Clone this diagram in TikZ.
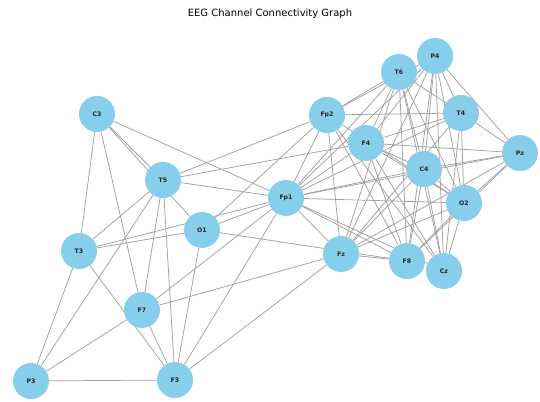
\documentclass[tikz,border=0pt]{standalone}
\usepackage{fontspec}
\setmainfont{DejaVu Sans}
\usetikzlibrary{backgrounds}
\definecolor{nodeblue}{HTML}{87CEEB}
\definecolor{edgegray}{HTML}{A0A0A0}
\tikzset{
  chan/.style={circle, fill=nodeblue, draw=none, minimum size=36pt, inner sep=0pt,
    font=\fontsize{6.2}{7}\selectfont\bfseries, text=black!85},
  edge/.style={draw=edgegray, line width=0.75pt},
  title/.style={font=\fontsize{10}{12}\selectfont, text=black}
}
\begin{document}
\begin{tikzpicture}[x=1pt,y=-1pt]
\useasboundingbox (0,0) rectangle (540,401);
\node[title] (ttl) at (270,14) {EEG Channel Connectivity Graph};
\node[chan] (Fp1) at (286,198) {Fp1};
\node[chan] (Fp2) at (327,115) {Fp2};
\node[chan] (F3) at (175,380) {F3};
\node[chan] (F4) at (366,143) {F4};
\node[chan] (C3) at (97,114) {C3};
\node[chan] (C4) at (424,169) {C4};
\node[chan] (P3) at (31,381) {P3};
\node[chan] (P4) at (435,56) {P4};
\node[chan] (O1) at (202,230) {O1};
\node[chan] (O2) at (464,203) {O2};
\node[chan] (F7) at (142,310) {F7};
\node[chan] (F8) at (407,261) {F8};
\node[chan] (T3) at (79,251) {T3};
\node[chan] (T4) at (461,113) {T4};
\node[chan] (T5) at (163,180) {T5};
\node[chan] (T6) at (399,72) {T6};
\node[chan] (Fz) at (341,254) {Fz};
\node[chan] (Cz) at (444,271) {Cz};
\node[chan] (Pz) at (520,153) {Pz};
\begin{pgfonlayer}{background}
\foreach \a/\b in {
  C3/T3, C3/F7, C3/T5, C3/O1, C3/Fp1,
  T5/Fp2, T5/F4, T5/Fp1, T5/T3, T5/P3, T5/F7, T5/F3,
  O1/Fp2, O1/Fp1, O1/F8, O1/F3, O1/T3,
  T3/Fp1, T3/P3, T3/F3,
  F7/Fp1, F7/Fz, F7/F3, F7/P3,
  P3/F3, F3/Fp1, F3/Fz,
  Fp2/T6, Fp2/P4, Fp2/T4, Fp2/O2, Fp2/Fz, Fp2/Cz, Fp2/F8, Fp2/Fp1,
  T6/T4, T6/F4, T6/C4, T6/O2, T6/Fz, T6/F8, T6/Cz, T6/Fp1,
  P4/T4, P4/Pz, P4/F4, P4/C4, P4/O2, P4/Cz, P4/F8, P4/Fp1, P4/Fz,
  T4/Pz, T4/O2, T4/Fp1, T4/Fz, T4/Cz, T4/F4,
  F4/Pz, F4/C4, F4/O2, F4/F8, F4/Cz, F4/Fp1,
  Pz/C4, Pz/O2, Pz/F8, Pz/Fp1, Pz/Fz,
  C4/O2, C4/F8, C4/Cz, C4/Fz, C4/Fp1,
  O2/Fz, O2/F8, O2/Cz, O2/Fp1,
  Fz/F8, Fz/Fp1, F8/Fp1, Cz/Fp1}
  \draw[edge] (\a) -- (\b);
\end{pgfonlayer}
\end{tikzpicture}
\end{document}
